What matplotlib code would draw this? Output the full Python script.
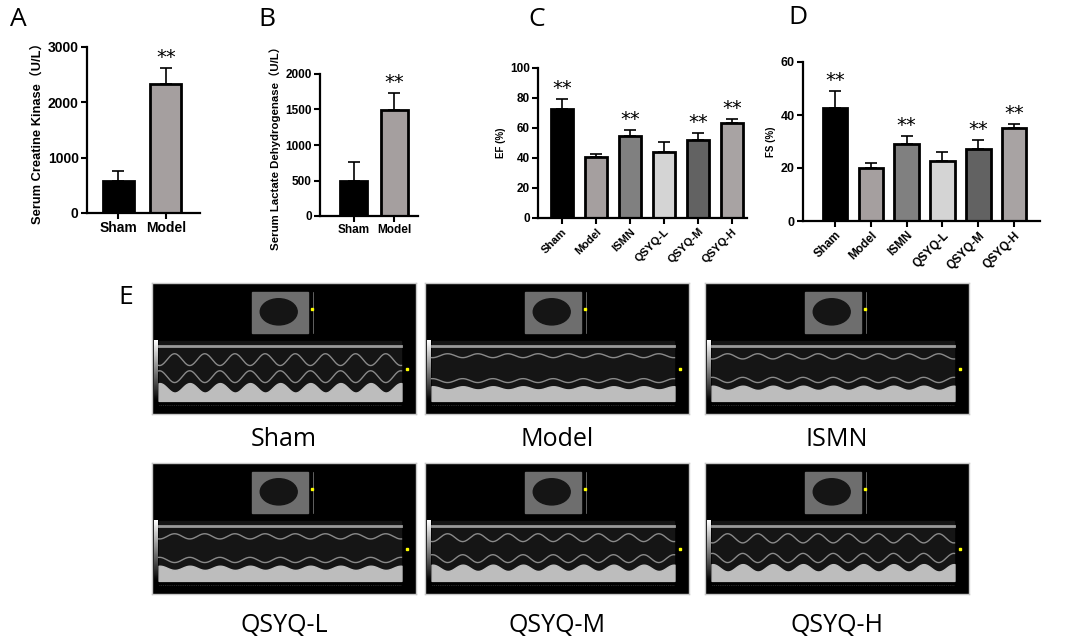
import numpy as np
import matplotlib.pyplot as plt
from matplotlib.patches import Rectangle, Ellipse

# ---- data ----
ab_groups = ["Sham", "Model"]
ck_mean = [580, 2330]
ck_err = [180, 290]
ldh_mean = [500, 1490]
ldh_err = [260, 240]

groups = ["Sham", "Model", "ISMN", "QSYQ-L", "QSYQ-M", "QSYQ-H"]
ef_mean = [72.5, 40.5, 55.0, 44.0, 52.0, 63.5]
ef_err = [7.0, 2.5, 4.0, 6.5, 5.0, 2.5]
fs_mean = [42.5, 20.0, 29.0, 22.5, 27.0, 35.0]
fs_err = [6.5, 2.0, 3.0, 3.5, 3.5, 1.5]
ab_stars = ["", "**"]
cd_stars = ["**", "", "**", "", "**", "**"]

ab_colors = ["#000000", "#a59f9f"]
cd_colors = ["#000000", "#a59f9f", "#808080", "#d4d4d4", "#626262", "#a8a3a3"]

echo_names = ["Sham", "Model", "ISMN", "QSYQ-L", "QSYQ-M", "QSYQ-H"]

W, H = 1065, 639
fig = plt.figure(figsize=(W / 100, H / 100), dpi=100)

bold = dict(family=["Liberation Sans", "Noto Sans CJK SC"], weight="bold")


def px_axes(x0, y0, x1, y1):
    return fig.add_axes([x0 / W, 1 - y1 / H, (x1 - x0) / W, (y1 - y0) / H])


def bar_panel(ax, labels, means, errs, colors, stars, width, xlim, ylim, yticks,
              ylabel, tick_fs, lab_fs, rot):
    x = np.arange(len(labels))
    ax.bar(x, means, width=width, color=colors, edgecolor="black", linewidth=2, zorder=2)
    ax.errorbar(x, means, yerr=[np.zeros(len(errs)), errs], fmt="none", ecolor="black",
                elinewidth=1.2, capsize=4, capthick=1.2, zorder=1)
    for xi, m, e, s in zip(x, means, errs, stars):
        if s:
            ax.text(xi, m + e + (ylim[1] * 0.005), s, ha="center", va="bottom",
                    fontsize=14, family="DejaVu Sans")
    ax.set_xlim(*xlim)
    ax.set_ylim(*ylim)
    ax.set_yticks(yticks)
    ax.set_xticks(x)
    if rot:
        ax.set_xticklabels(labels, rotation=45, ha="right", rotation_mode="anchor", **bold,
                           fontsize=tick_fs - 0.5)
    else:
        ax.set_xticklabels(labels, **bold, fontsize=tick_fs)
    for t in ax.get_yticklabels():
        t.set_fontfamily(bold["family"])
        t.set_fontweight("bold")
        t.set_fontsize(tick_fs)
    for sp in ["top", "right"]:
        ax.spines[sp].set_visible(False)
    for sp in ["left", "bottom"]:
        ax.spines[sp].set_linewidth(1.6)
    ax.tick_params(width=1.5, length=4, pad=2)
    ax.set_ylabel(ylabel, fontsize=lab_fs, labelpad=3, **bold)


axA = px_axes(87, 47, 200, 213)
bar_panel(axA, ab_groups, ck_mean, ck_err, ab_colors, ab_stars, 0.65, (-0.66, 1.72),
          (0, 3000), [0, 1000, 2000, 3000], "Serum Creatine Kinase（U/L）", 10, 9.3, False)

axB = px_axes(320, 74, 418, 216)
bar_panel(axB, ab_groups, ldh_mean, ldh_err, ab_colors, ab_stars, 0.67, (-0.83, 1.59),
          (0, 2000), [0, 500, 1000, 1500, 2000], "Serum Lactate Dehydrogenase（U/L）", 8.5, 8.2, False)

axC = px_axes(538, 68, 747, 218)
bar_panel(axC, groups, ef_mean, ef_err, cd_colors, cd_stars, 0.65, (-0.7, 5.44),
          (0, 100), [0, 20, 40, 60, 80, 100], "EF (%)", 8.5, 7, True)

axD = px_axes(803, 62, 1040, 221)
bar_panel(axD, groups, fs_mean, fs_err, cd_colors, cd_stars, 0.68, (-0.89, 5.72),
          (0, 60), [0, 20, 40, 60], "FS (%)", 9, 7, True)

# panel letters
for letter, (lx, ly) in zip("ABCDE", [(10, 20), (258, 20), (528, 20), (788, 18), (118, 297)]):
    fig.text(lx / W, 1 - ly / H, letter, fontsize=19, family="Open Sans",
             va="center", ha="left")

# ---- echocardiography panels (M-mode screenshots, drawn as schematic) ----
panel_x = [152, 425, 705]
panel_y = [283, 463]
label_y = [439, 626]
amp = [0.09, 0.03, 0.04, 0.04, 0.06, 0.07]

for i, name in enumerate(echo_names):
    r, c = divmod(i, 3)
    x0, y0 = panel_x[c], panel_y[r]
    ax = px_axes(x0, y0, x0 + 264, y0 + 131)
    ax.set_facecolor("black")
    ax.set_xlim(0, 1)
    ax.set_ylim(0, 1)
    ax.set_xticks([])
    ax.set_yticks([])
    for sp in ax.spines.values():
        sp.set_edgecolor("#c8c8c8")
        sp.set_linewidth(1.0)
    # 2D image inset
    ax.add_patch(Rectangle((0.38, 0.62), 0.21, 0.31, color="#6e6e6e", zorder=1))
    ax.add_patch(Ellipse((0.48, 0.78), 0.14, 0.2, color="#151515", zorder=2))
    ax.plot([0.61, 0.61], [0.62, 0.93], color="#888888", lw=0.5)
    ax.plot(0.605, 0.8, "s", color="yellow", ms=2)
    # greyscale bar
    grad = np.linspace(1, 0, 50).reshape(-1, 1)
    ax.imshow(grad, cmap="gray", extent=(0.008, 0.022, 0.1, 0.56), aspect="auto", zorder=1)
    # M-mode band
    ax.add_patch(Rectangle((0.025, 0.1), 0.92, 0.46, color="#151515", zorder=1))
    t = np.linspace(0.025, 0.945, 300)
    ax.fill_between(t, 0.1, 0.2 + amp[i] * 0.4 * np.sin(t * 55), color="#bdbdbd", zorder=2)
    ax.plot(t, 0.52 + 0 * t, color="#9a9a9a", lw=2.0, zorder=2)
    ax.plot(t, 0.46 - amp[i] * (0.5 + 0.5 * np.sin(t * 55)), color="#8a8a8a", lw=1.0, zorder=2)
    ax.plot(t, 0.24 + amp[i] * (0.5 + 0.5 * np.sin(t * 55)), color="#8a8a8a", lw=1.0, zorder=2)
    ax.plot(0.965, 0.34, "s", color="yellow", ms=2)
    ax.plot(t, 0.07 + 0 * t, color="#555555", lw=0.5, ls=":")
    fig.text((x0 + 132) / W, 1 - label_y[r] / H, name, fontsize=18, family="Open Sans",
             ha="center", va="center")

fig.savefig("out.png", dpi=100, facecolor="white")
